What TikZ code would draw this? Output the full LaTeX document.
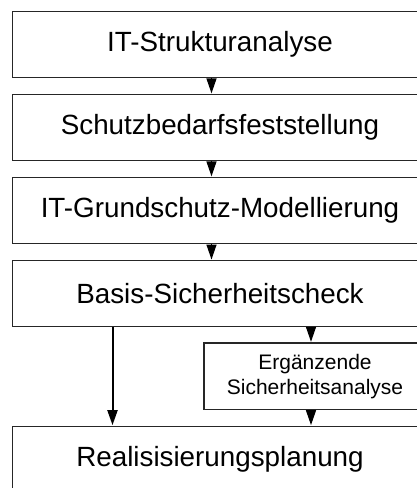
\documentclass[tikz,border=0pt]{standalone}
\usepackage{fontspec}
\setmainfont{Liberation Sans}
\usetikzlibrary{arrows.meta}

\begin{document}
\begin{tikzpicture}[x=1pt, y=-1pt, >={Triangle[width=10pt,length=15pt]}]
	\tikzstyle{phase}=[draw=black!85, line width=1.3pt, fill=white, minimum width=415pt, minimum height=66pt, inner sep=0pt, font=\fontsize{27.8}{33}\selectfont]
	\tikzstyle{subphase}=[phase, minimum width=222pt, minimum height=66.5pt, align=center, font=\fontsize{21}{25}\selectfont]
	\tikzstyle{flow}=[->, line width=1.3pt, shorten >=0.5pt]
	
	% Frame of the picture
	\clip (0,0) rectangle (417,488);
	
	% Draw the main steps
	\node[phase] (struktur) at (220,44.5) {IT-Strukturanalyse};
	\node[phase] (schutz) at (220,127.5) {Schutzbedarfsfeststellung};
	\node[phase] (modell) at (220,210.5) {IT-Grundschutz-Modellierung};
	\node[phase] (check) at (220,293.7) {Basis-Sicherheitscheck};
	\node[phase] (plan) at (220,459.3) {Realisisierungsplanung};
	
	% Draw the extra analysis
	\node[subphase] (analyse) at (315,376.2) {Ergänzende\\Sicherheitsanalyse};
	
	% Columns of the arrows
	\coordinate (mid) at (211.5,0);
	\coordinate (left) at (112.5,0);
	\coordinate (right) at (311,0);
	
	% Draw arrows
	\draw[flow] (struktur.south -| mid) -- (schutz.north -| mid);
	\draw[flow] (schutz.south -| mid) -- (modell.north -| mid);
	\draw[flow] (modell.south -| mid) -- (check.north -| mid);
	\draw[flow, line width=2pt] (check.south -| left) -- (plan.north -| left);
	\draw[flow] (check.south -| right) -- (analyse.north -| right);
	\draw[flow] (analyse.south -| right) -- (plan.north -| right);
\end{tikzpicture}
\end{document}
